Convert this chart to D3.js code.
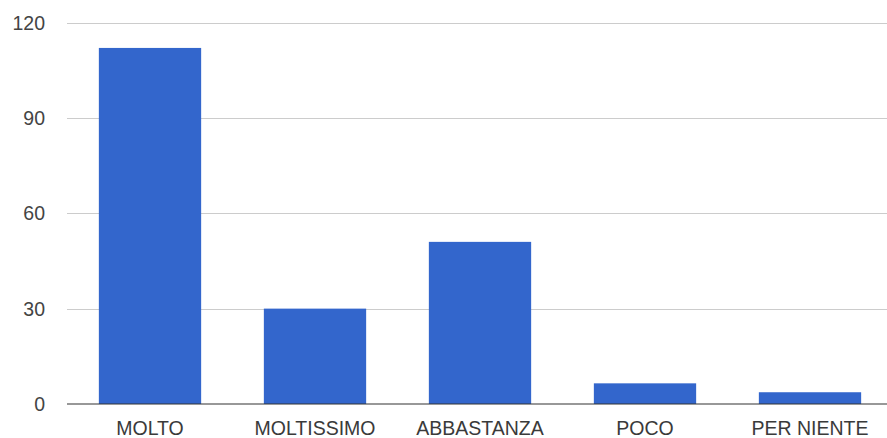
<!DOCTYPE html>
<html>
<head>
<meta charset="utf-8">
<script src="https://cdn.jsdelivr.net/npm/d3@7"></script>
<style>
  html, body { margin: 0; padding: 0; background: #fff; }
  svg { display: block; }
  text { font-family: "Liberation Sans", Arial, sans-serif; }
</style>
</head>
<body>
<svg id="chart" width="887" height="438"></svg>
<script>
const categories = ["MOLTO", "MOLTISSIMO", "ABBASTANZA", "POCO", "PER NIENTE"];
const values = [112, 30, 51, 6.5, 3.7];
const yTicks = [0, 30, 60, 90, 120];

const W = 887, H = 438;
const svg = d3.select("#chart");

const x = d3.scaleBand()
  .domain(categories)
  .range([67.5, 892.5])
  .paddingInner(0.38)
  .paddingOuter(0.19);

const y = d3.scaleLinear().domain([0, 120]).range([404, 22.5]);

// gridlines
svg.append("g")
  .selectAll("line")
  .data(yTicks.filter(d => d !== 0))
  .join("line")
  .attr("x1", 67).attr("x2", W)
  .attr("y1", d => Math.round(y(d)) + 0.5)
  .attr("y2", d => Math.round(y(d)) + 0.5)
  .attr("stroke", "#cccccc")
  .attr("stroke-width", 1);

// y tick labels
svg.append("g")
  .selectAll("text")
  .data(yTicks)
  .join("text")
  .attr("x", 45)
  .attr("y", d => y(d))
  .attr("dy", "0.36em")
  .attr("text-anchor", "end")
  .attr("font-size", 19.5)
  .attr("fill", "#444")
  .text(d => d);

// bars
svg.append("g")
  .selectAll("rect")
  .data(categories)
  .join("rect")
  .attr("x", d => x(d))
  .attr("width", x.bandwidth())
  .attr("y", (d, i) => y(values[i]))
  .attr("height", (d, i) => y(0) - y(values[i]))
  .attr("fill", "#3366cc");

// baseline
svg.append("line")
  .attr("x1", 67).attr("x2", W)
  .attr("y1", y(0)).attr("y2", y(0))
  .attr("stroke", "#333")
  .attr("stroke-width", 1.2);

// x labels
svg.append("g")
  .selectAll("text")
  .data(categories)
  .join("text")
  .attr("x", d => x(d) + x.bandwidth() / 2)
  .attr("y", 434.5)
  .attr("text-anchor", "middle")
  .attr("font-size", 19.5)
  .attr("fill", "#3a3a3a")
  .text(d => d);
</script>
</body>
</html>
